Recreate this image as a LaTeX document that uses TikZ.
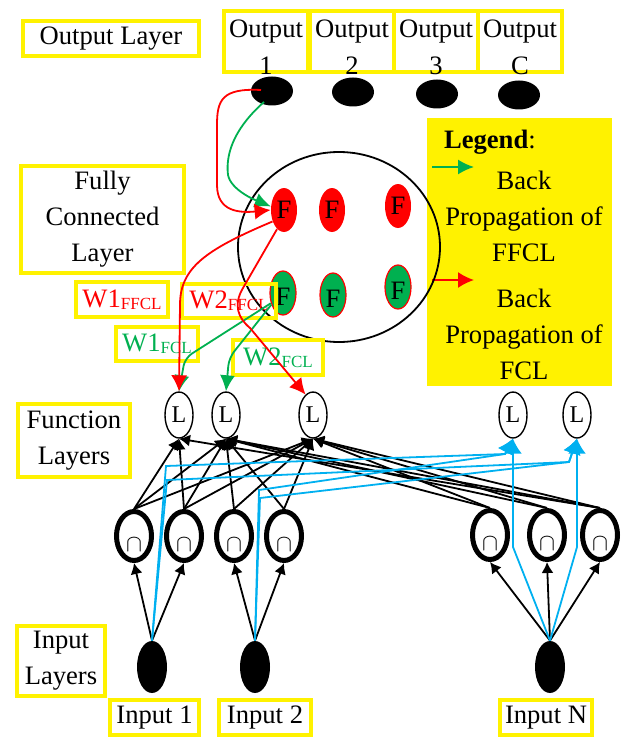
\documentclass[tikz,border=0pt]{standalone}
\usepackage{fontspec}
\setmainfont{Liberation Serif}
\usetikzlibrary{shapes.geometric,arrows.meta}

\definecolor{fgreen}{RGB}{0,176,80}
\definecolor{fblue}{RGB}{0,176,240}

% symbol inside the union units, sits a bit low
\newcommand{\capsym}{\rule{0pt}{15pt}$\cap$}
% small lowered index of the weight names
\newcommand{\wsub}[1]{\raisebox{-1.2pt}{\fontsize{8.5}{9}\selectfont #1}}

\tikzset{
  ybox/.style={draw=yellow, line width=2pt, inner sep=0pt, align=center},
  outdot/.style={ellipse, fill=black, minimum width=21pt, minimum height=14.5pt, inner sep=0pt},
  indot/.style={ellipse, fill=black, minimum width=15pt, minimum height=26pt, inner sep=0pt},
  fnode/.style={ellipse, fill=red, minimum width=13pt, minimum height=22pt, inner sep=0pt},
  gnode/.style={fnode, fill=fgreen, draw=red, line width=0.6pt},
  lnode/.style={ellipse, draw, line width=0.7pt, minimum width=14pt, minimum height=23pt,
    inner sep=0pt, font=\fontsize{12}{12}\selectfont},
  capnode/.style={ellipse, draw, line width=2.5pt, minimum width=17.5pt, minimum height=24.5pt,
    inner sep=0pt, font=\fontsize{13}{13}\selectfont},
  fwd/.style={line width=0.9pt, -{Latex[length=5.5pt,width=6pt]}},
  bwd/.style={line width=0.9pt, color=fblue, -{Latex[length=7.5pt,width=9pt]}},
  redbp/.style={line width=0.9pt, color=red, -{Latex[length=8pt,width=8pt]}},
  greenbp/.style={line width=0.9pt, color=fgreen, -{Latex[length=8pt,width=7.5pt]}},
}

\begin{document}
\begin{tikzpicture}[x=0.5pt, y=-0.5pt, font=\fontsize{13.3}{18}\selectfont]
\useasboundingbox (0,0) rectangle (621,738);

% output layer
\node[ybox, minimum width=88pt, minimum height=17.5pt] (outlab) at (111,38.5) {Output Layer};
\node[ybox, minimum width=42pt, minimum height=30.5pt] (ob1) at (266,41.5) {};
\node[ybox, minimum width=42pt, minimum height=30.5pt] (ob2) at (352,41.5) {};
\node[ybox, minimum width=42pt, minimum height=30.5pt] (ob3) at (436,41.5) {};
\node[ybox, minimum width=42pt, minimum height=30.5pt] (obC) at (520,41.5) {};
\node[align=center, font=\fontsize{13.3}{18.5}\selectfont] (ot1) at (266,47) {Output\\1};
\node[align=center, font=\fontsize{13.3}{18.5}\selectfont] (ot2) at (352,47) {Output\\2};
\node[align=center, font=\fontsize{13.3}{18.5}\selectfont] (ot3) at (436,47) {Output\\3};
\node[align=center, font=\fontsize{13.3}{18.5}\selectfont] (otC) at (520,47) {Output\\C};
\draw
  (272,91) node[outdot] (o1){}
  (353,92) node[outdot] (o2){}
  (437,94) node[outdot] (o3){}
  (519,95) node[outdot] (oC){};

% legend
\fill[yellow] (427,118) rectangle (612,386);
\node[anchor=west] (leg) at (437,142) {\textbf{Legend}:};
\node[align=center] (legg) at (524,216) {Back\\Propagation of\\FFCL};
\node[align=center] (legr) at (524,334) {Back\\Propagation of\\FCL};
\coordinate (lga) at (432,167);
\coordinate (lgb) at (474,167);
\coordinate (lra) at (432,280);
\coordinate (lrb) at (474,280);
\draw[greenbp] (lga) -- (lgb);
\draw[redbp] (lra) -- (lrb);

% fully connected layer
\node[ybox, minimum width=81.5pt, minimum height=53.5pt] (fclab) at (102.5,219.5) {Fully\\Connected\\Layer};
\node[ellipse, draw, line width=0.9pt, minimum width=101pt, minimum height=95pt] (fcl) at (339,247) {};
\draw
  (284,210) node[fnode] (F1){F}
  (332,210) node[fnode] (F2){F}
  (398,206) node[fnode] (F3){F}
  (283,293) node[gnode] (G1){\rule{0pt}{12pt}F}
  (333,295) node[gnode] (G2){\rule{0pt}{12pt}F}
  (398,287) node[gnode] (G3){\rule{0pt}{12pt}F};

% weight labels
\node[ybox, text=red, minimum width=46pt, minimum height=17.5pt] (w1ffcl) at (122,299.5) {W1\wsub{FFCL}};
\node[ybox, text=red, minimum width=47pt, minimum height=17pt] (w2ffcl) at (229,301) {W2\wsub{FFCL}};
\node[ybox, text=fgreen, minimum width=41pt, minimum height=17pt] (w1fcl) at (157,344) {W1\wsub{FCL}};
\node[ybox, text=fgreen, minimum width=45pt, minimum height=17.5pt] (w2fcl) at (278,357.5) {W2\wsub{FCL}};

% function layers
\node[ybox, minimum width=56pt, minimum height=36.5pt] (funlab) at (74,440.5) {Function\\Layers};
\draw
  (179,415) node[lnode] (L1){L}
  (226,415) node[lnode] (L2){L}
  (313,415) node[lnode] (L3){L}
  (513,415) node[lnode] (L4){L}
  (577,415) node[lnode] (L5){L};

% union units
\draw
  (134,536) node[capnode] (cap1){\capsym}
  (184,536) node[capnode] (cap2){\capsym}
  (234,536) node[capnode] (cap3){\capsym}
  (284,536) node[capnode] (cap4){\capsym}
  (490,535) node[capnode] (cap5){\capsym}
  (547,535) node[capnode] (cap6){\capsym}
  (600,535) node[capnode] (cap7){\capsym};

% input layer
\node[ybox, minimum width=44pt, minimum height=35pt] (inlab) at (61,661) {Input\\Layers};
\draw
  (152,667) node[indot] (in1){}
  (255,667) node[indot] (in2){}
  (550,667) node[indot] (inN){};
\node[ybox, minimum width=44.5pt, minimum height=17.5pt] (inl1) at (154.5,717.5) {Input 1};
\node[ybox, minimum width=46pt, minimum height=17.5pt] (inl2) at (265,717.5) {Input 2};
\node[ybox, minimum width=46pt, minimum height=17.5pt] (inlN) at (546,717.5) {Input N};

\begin{scope}[fwd]
  \draw (in1.north) -- (cap1.south);
  \draw (in1.north) -- (cap2.south);
  \draw (in2.north) -- (cap3.south);
  \draw (in2.north) -- (cap4.south);
  \draw (inN.north) -- (cap5.south);
  \draw (inN.north) -- (cap6.south);
  \draw (inN.north) -- (cap7.south);
  \draw (cap1.north) -- (L1.south);
  \draw (cap1.north) -- (L2.south);
  \draw (cap1.north) -- (L3.south);
  \draw (cap2.north) -- (L1.south);
  \draw (cap2.north) -- (L2.south);
  \draw (cap2.north) -- (L3.south);
  \draw (cap3.north) -- (L2.south);
  \draw (cap3.north) -- (L3.south);
  \draw (cap4.north) -- (L2.south);
  \draw (cap4.north) -- (L3.south);
  \draw (cap5.north) -- (L2.south);
  \draw (cap5.north) -- (L3.south);
  \draw (cap6.north) -- (L2.south);
  \draw (cap6.north) -- (L3.south);
  \draw (cap7.north) -- (L1.south);
  \draw (cap7.north) -- (L2.south);
  \draw (cap7.north) -- (L3.south);
\end{scope}

% skip links from the inputs
\coordinate (b1) at (166,466);
\coordinate (b2) at (167,480);
\coordinate (b3) at (259,490);
\coordinate (b4) at (260,498);
\coordinate (b5) at (513,547);
\coordinate (b6) at (577,547);
\coordinate (j4) at (505,454);
\coordinate (j5) at (569,462);
\draw[bwd] (in1.north) -- (b1) -- (j4) -- (L4.south);
\draw[bwd] (in1.north) -- (b2) -- (j5) -- (L5.south);
\draw[bwd] (in2.north) -- (b3) -- (j4) -- (L4.south);
\draw[bwd] (in2.north) -- (b4) -- (j5) -- (L5.south);
\draw[bwd] (inN.north) -- (b5) -- (L4.south);
\draw[bwd] (inN.north) -- (b6) -- (L5.south);

% back propagation paths
\coordinate (o1r) at (261,90);
\coordinate (o1g) at (264,102);
\draw[greenbp] (o1g) .. controls (238,125) and (225,150) .. (228,175)
  .. controls (231,190) and (255,200) .. (F1.165);
\draw[greenbp, rounded corners=4pt] (G1.220) -- (185,358) -- (L1.north);
\draw[greenbp, rounded corners=4pt] (G1.225) -- (229,358) -- (L2.north);
\draw[redbp] (o1r) .. controls (222,88) and (217,100) .. (217,125) -- (217,185)
  .. controls (217,212) and (240,213) .. (F1.west);
\draw[redbp] (F1.225) .. controls (205,250) and (180,268) .. (180,305) -- (L1.north);
\draw[redbp] (F1.250) -- (243,288) .. controls (233,305) and (238,318) .. (250,328) -- (L3.110);
\end{tikzpicture}
\end{document}
